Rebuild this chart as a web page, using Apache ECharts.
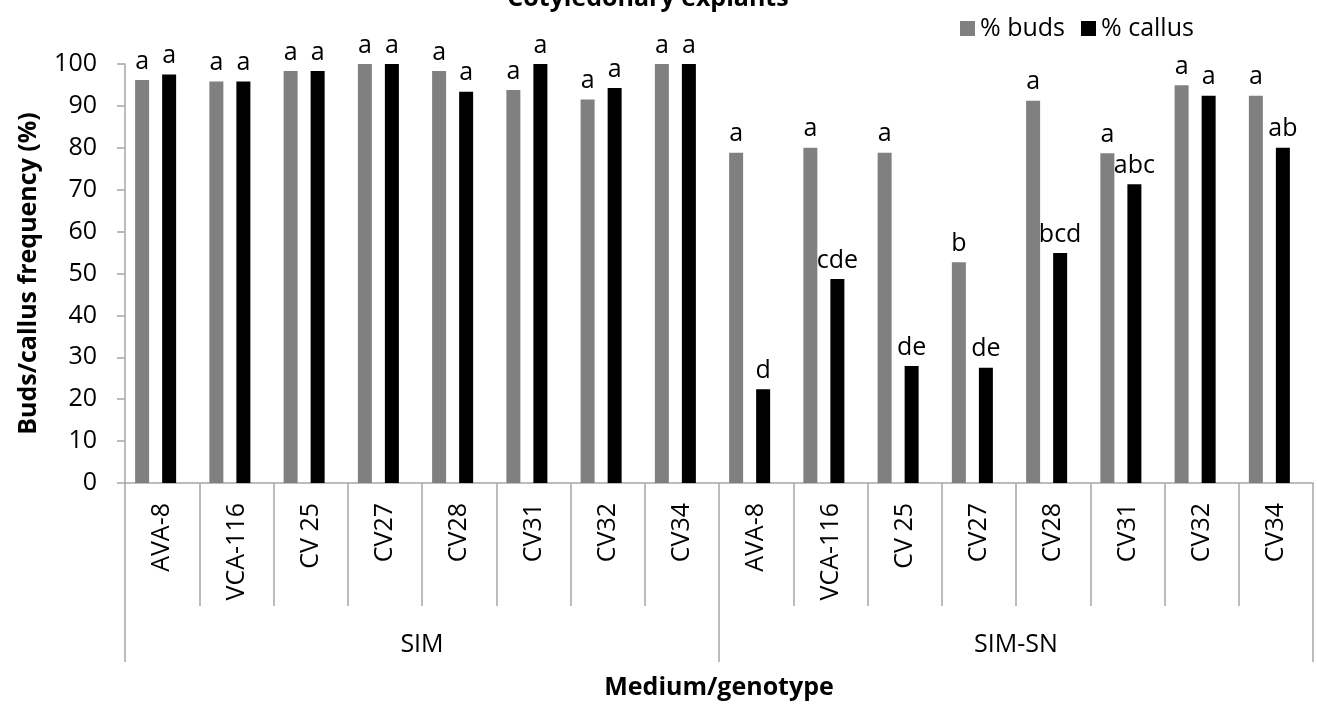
<!DOCTYPE html>
<html>
<head>
<meta charset="utf-8">
<script src="https://cdn.jsdelivr.net/npm/echarts@6/dist/echarts.min.js"></script>
<style>
    html, body { margin: 0; padding: 0; background: #fff; }
    #chart { width: 1317px; height: 719px; }
</style>
</head>
<body>
<div id="chart"></div>
<script>
// media (outer level) and genotypes (inner level of the x axis)
var media = ['SIM', 'SIM-SN'];
var genotypes = ['AVA-8', 'VCA-116', 'CV 25', 'CV27', 'CV28', 'CV31', 'CV32', 'CV34'];

// % buds / % callus, SIM first then SIM-SN
var budsValues = [96.2, 95.8, 98.3, 100, 98.3, 93.8, 91.5, 100,
                  78.8, 80.0, 78.8, 52.7, 91.2, 78.7, 94.9, 92.4];
var callusValues = [97.5, 95.8, 98.3, 100, 93.4, 100, 94.3, 100,
                    22.4, 48.7, 27.9, 27.5, 54.9, 71.3, 92.4, 80.0];

// significance letters
var budsLetters = ['a', 'a', 'a', 'a', 'a', 'a', 'a', 'a',
                   'a', 'a', 'a', 'b', 'a', 'a', 'a', 'a'];
var callusLetters = ['a', 'a', 'a', 'a', 'a', 'a', 'a', 'a',
                     'd', 'cde', 'de', 'de', 'bcd', 'abc', 'a', 'ab'];

var yTicks = { min: 0, max: 100, interval: 10 };

function RenderChart() {
    var dom = document.getElementById('chart');
    var chart = echarts.init(dom);
    var font = 'Open Sans';
    var fs = 25;
    var lineColor = '#a6a6a6';

    // one label per bar: genotype list repeated for every medium
    var categories = [];
    media.forEach(function () {
        categories = categories.concat(genotypes);
    });

    var option = {
        backgroundColor: '#fff',
        textStyle: { fontFamily: font },
        title: {
            text: 'Cotyledonary explants',
            left: 643,
            top: -19,
            textAlign: 'center',
            textStyle: { fontFamily: font, fontSize: fs, fontWeight: 'bold', color: '#000' }
        },
        legend: {
            left: 955,
            top: 11,
            itemWidth: 15,
            itemHeight: 15,
            itemGap: 16,
            icon: 'rect',
            textStyle: { fontFamily: font, fontSize: fs, color: '#000' },
            data: ['% buds', '% callus']
        },
        grid: [
            // grid with visible axes
            { left: 125, right: 4, top: 64, bottom: 236 },
            // grid holding the bars (slightly shifted like the original)
            { left: 118.5, right: 10.5, top: 64, bottom: 236 }
        ],
        xAxis: [
            {
                type: 'category',
                gridIndex: 0,
                data: categories,
                axisLine: { show: true, lineStyle: { color: lineColor, width: 1.5 } },
                axisTick: { show: true, interval: 0, length: 123, lineStyle: { color: lineColor, width: 1.5 } },
                axisLabel: {
                    show: true,
                    interval: 0,
                    rotate: 90,
                    margin: 20,
                    fontFamily: font,
                    fontSize: fs,
                    color: '#000'
                }
            },
            {
                type: 'category',
                gridIndex: 0,
                position: 'bottom',
                data: media,
                axisLine: { show: false },
                axisTick: { show: true, interval: 0, length: 179, lineStyle: { color: lineColor, width: 1.5 } },
                axisLabel: {
                    show: true,
                    interval: 0,
                    margin: 149,
                    fontFamily: font,
                    fontSize: fs,
                    color: '#000'
                },
                name: 'Medium/genotype',
                nameLocation: 'middle',
                nameGap: 192,
                nameTextStyle: { fontFamily: font, fontSize: fs, fontWeight: 'bold', color: '#000' }
            },
            {
                type: 'category',
                gridIndex: 1,
                data: categories,
                show: false
            }
        ],
        yAxis: [
            {
                type: 'value',
                gridIndex: 0,
                min: yTicks.min,
                max: yTicks.max,
                interval: yTicks.interval,
                splitLine: { show: false },
                axisLine: { show: true, lineStyle: { color: lineColor, width: 1.5 } },
                axisTick: { show: true, length: 8, lineStyle: { color: lineColor, width: 1.5 } },
                axisLabel: { margin: 28, fontFamily: font, fontSize: fs, color: '#000' },
                name: 'Buds/callus frequency (%)',
                nameLocation: 'middle',
                nameGap: 84,
                nameTextStyle: { fontFamily: font, fontSize: fs, fontWeight: 'bold', color: '#000' }
            },
            {
                type: 'value',
                gridIndex: 1,
                min: yTicks.min,
                max: yTicks.max,
                show: false
            }
        ],
        series: [
            {
                name: '% buds',
                type: 'bar',
                xAxisIndex: 2,
                yAxisIndex: 1,
                data: budsValues,
                barWidth: 14,
                barGap: '93%',
                itemStyle: { color: '#808080' },
                label: {
                    show: true,
                    position: 'top',
                    distance: 6,
                    fontFamily: font,
                    fontSize: fs,
                    color: '#000',
                    formatter: function (p) { return budsLetters[p.dataIndex]; }
                }
            },
            {
                name: '% callus',
                type: 'bar',
                xAxisIndex: 2,
                yAxisIndex: 1,
                data: callusValues,
                barWidth: 14,
                barGap: '93%',
                itemStyle: { color: '#000000' },
                label: {
                    show: true,
                    position: 'top',
                    distance: 6,
                    fontFamily: font,
                    fontSize: fs,
                    color: '#000',
                    formatter: function (p) { return callusLetters[p.dataIndex]; }
                }
            }
        ]
    };

    chart.setOption(option);

    window.addEventListener('resize', function () {
        chart.resize();
    });
}

RenderChart();
</script>
</body>
</html>
